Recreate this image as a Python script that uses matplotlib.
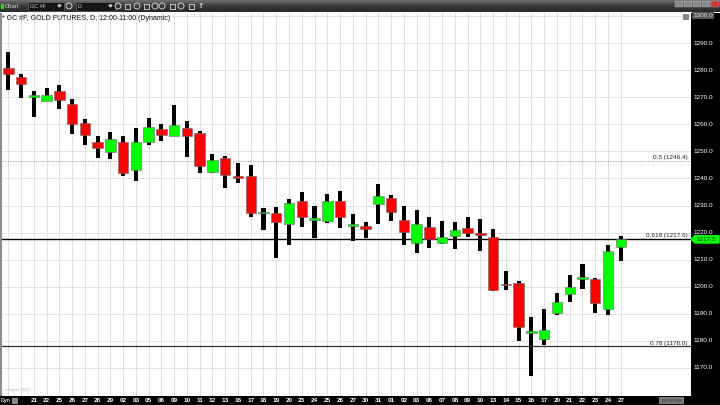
import matplotlib

matplotlib.use("Agg")
import matplotlib.pyplot as plt
import matplotlib.transforms as mtransforms
import numpy as np
from matplotlib.patches import Circle, Polygon, Rectangle

W, H = 720, 405

TITLE = "* GC #F, GOLD FUTURES, D, 12:00-11:00 (Dynamic)"

# one label per candle, the first two sit under the "Dyn" box
DATE_LABELS = [
    "", "", "21", "22", "25", "26", "27", "28", "29", "02", "03", "05", "06", "09", "10", "11",
    "12", "13", "16", "17", "18", "19", "20", "23", "24", "25", "26", "27", "30", "31", "01",
    "02", "03", "06", "07", "08", "09", "10", "13", "14", "15", "16", "17", "20", "21", "22",
    "23", "24", "27",
]
OPENS = [
    1280.7, 1277.3, 1270.1, 1268.7, 1272.3, 1267.4, 1260.6, 1253.6, 1249.6, 1253.4,
    1243.0, 1253.6, 1258.4, 1255.8, 1258.6, 1256.8, 1242.3, 1247.4, 1241.0, 1240.9,
    1227.1, 1227.1, 1223.1, 1231.7, 1224.5, 1224.2, 1231.7, 1222.5, 1222.4, 1230.7,
    1232.7, 1224.6, 1216.3, 1222.0, 1216.0, 1218.8, 1221.8, 1219.8, 1218.3, 1201.0,
    1201.4, 1182.9, 1180.8, 1190.4, 1197.4, 1202.9, 1202.8, 1191.7, 1214.6,
]
HIGHS = [
    1286.8, 1278.6, 1272.3, 1273.3, 1274.5, 1269.3, 1261.9, 1255.8, 1257.1, 1255.6,
    1258.5, 1262.4, 1260.2, 1267.0, 1261.1, 1257.5, 1248.9, 1248.4, 1245.8, 1245.0,
    1229.0, 1229.6, 1232.3, 1235.1, 1229.7, 1234.2, 1235.2, 1226.9, 1223.8, 1237.9,
    1233.9, 1229.9, 1228.3, 1225.9, 1224.3, 1223.8, 1225.6, 1224.9, 1221.3, 1205.8,
    1202.0, 1188.9, 1191.9, 1197.6, 1204.2, 1208.4, 1203.1, 1215.3, 1218.7,
]
LOWS = [
    1272.6, 1269.8, 1262.6, 1268.5, 1265.6, 1256.5, 1252.3, 1247.4, 1247.1, 1240.8,
    1238.9, 1252.2, 1253.8, 1255.7, 1247.8, 1241.9, 1241.9, 1236.3, 1238.4, 1225.9,
    1221.0, 1210.7, 1215.4, 1222.2, 1218.1, 1223.4, 1221.8, 1216.9, 1218.1, 1223.1,
    1224.4, 1215.4, 1212.6, 1214.4, 1215.9, 1213.8, 1218.5, 1213.2, 1198.6, 1198.8,
    1180.1, 1167.0, 1178.5, 1189.6, 1194.4, 1199.2, 1190.2, 1189.5, 1209.4,
]
CLOSES = [
    1278.7, 1274.8, 1270.3, 1270.8, 1269.1, 1260.1, 1256.1, 1251.1, 1254.6, 1241.9,
    1253.6, 1258.9, 1255.9, 1259.6, 1255.6, 1244.6, 1246.7, 1241.4, 1240.0, 1227.3,
    1227.7, 1224.0, 1231.0, 1225.6, 1225.3, 1231.7, 1225.9, 1222.9, 1221.3, 1233.5,
    1227.7, 1220.2, 1223.2, 1217.7, 1218.2, 1221.0, 1220.0, 1219.2, 1198.8, 1200.6,
    1185.0, 1183.8, 1184.0, 1194.5, 1199.8, 1203.3, 1194.0, 1213.2, 1217.5,
]
FIB_LABELS = ["0.5", "0.618", "0.78"]
FIB_PRICES = [1246.4, 1217.6, 1178.0]
PRICE_TICKS = [1170, 1180, 1190, 1200, 1210, 1220, 1230, 1240, 1250, 1260, 1270, 1280, 1290, 1300]
LAST_PRICE = 1217.5
END_DATE = "08/01/2018"


def fig_box(x0, y0, x1, y1):
    # pixel box (top-left origin) -> figure fraction rect
    return [x0 / W, 1 - y1 / H, (x1 - x0) / W, (y1 - y0) / H]


def add_rect(fig, x0, y0, x1, y1, color, zorder=-1, **kw):
    fig.add_artist(Rectangle((x0 / W, 1 - y1 / H), (x1 - x0) / W, (y1 - y0) / H,
                             transform=fig.transFigure, facecolor=color, zorder=zorder, **kw))


def draw_toolbar(fig):
    bar = fig.add_axes(fig_box(0, 0, W, 12))
    grad = np.linspace(0, 1, 50).reshape(-1, 1)
    bar.imshow(grad, aspect="auto", cmap=matplotlib.colors.LinearSegmentedColormap.from_list(
        "bar", ["#707070", "#3a3a3a", "#2a2a2a"]), extent=[0, W, 12, 0])
    bar.set_xlim(0, W)
    bar.set_ylim(12, 0)
    bar.axis("off")

    bar.add_patch(Rectangle((1, 4), 2, 4, color="#33cc33"))
    bar.text(5, 6, "Chart", fontsize=4.2, color="#dddddd", va="center", family="Liberation Sans")
    for x0, x1, label in [(28, 64, "GC #F"), (76, 115, "D")]:
        bar.add_patch(Rectangle((x0, 1.5), x1 - x0, 9, color="#151515", ec="#777777", lw=0.4))
        bar.text(x0 + 2, 6, label, fontsize=4, color="#cccccc", va="center", family="Liberation Sans")
        bar.add_patch(Polygon([(x1 - 6, 5), (x1 - 3, 5), (x1 - 4.5, 7)], color="#cccccc"))
    for xc in [69, 118, 137, 155, 162, 181]:
        bar.add_patch(Circle((xc, 6), 3, fill=False, ec="#dddddd", lw=0.6))
    for xc in [127, 146, 172, 191]:
        bar.add_patch(Rectangle((xc - 2.5, 3.5), 5, 5, fill=False, ec="#dddddd", lw=0.6))
    bar.text(200, 6, "f", fontsize=5, color="#dddddd", va="center", weight="bold")

    for i, x0 in enumerate([675, 684, 693, 702, 711]):
        col = "#d03030" if i == 4 else "#8a8a8a"
        bar.add_patch(Rectangle((x0, 0.5), 8, 6, color=col, ec="#bbbbbb", lw=0.3))


def draw_candles(ax):
    xs = np.arange(len(OPENS))
    opens = np.array(OPENS)
    closes = np.array(CLOSES)
    highs = np.array(HIGHS)
    lows = np.array(LOWS)

    ax.bar(xs, highs - lows, bottom=lows, width=0.32, color="black", zorder=3)

    up = closes >= opens
    body_low = np.minimum(opens, closes)
    body_h = np.maximum(np.abs(closes - opens), 0.55)
    colors = np.where(up, "#00ff00", "#ff0000")
    ax.bar(xs, body_h, bottom=body_low, width=0.82, color=colors, edgecolor="#6a6a6a",
           linewidth=0.4, zorder=4)


def main() -> None:
    plt.rcParams["font.family"] = ["Liberation Sans", "DejaVu Sans"]
    fig = plt.figure(figsize=(W / 100, H / 100), dpi=100)
    fig.patch.set_facecolor("white")

    # black price strip on the right and date strip at the bottom
    add_rect(fig, 691, 13, W, H, "black")
    add_rect(fig, 0, 396, W, H, "black")

    ax = fig.add_axes(fig_box(0, 13, 691, 396))
    n = len(OPENS)
    x_step = 691 / 12.76
    ax.set_xlim(-0.65, -0.65 + x_step)
    ax.set_ylim(1159.66, 1301.08)
    ax.set_facecolor("white")
    for spine in ax.spines.values():
        spine.set_visible(False)
    ax.set_xticks([])
    ax.set_yticks([])

    for p in PRICE_TICKS:
        ax.axhline(p, color="#e4e4e4", lw=0.7, zorder=1)
    for i in range(n):
        ax.axvline(i, color="#dedede", lw=0.7, zorder=1)

    draw_candles(ax)

    right_tr = mtransforms.blended_transform_factory(ax.transAxes, ax.transData)
    fib_styles = [
        dict(color="#9a9a9a", lw=0.6, ls=(0, (1.5, 1.5))),
        dict(color="black", lw=1.0, ls="-"),
        dict(color="#333333", lw=0.9, ls="-"),
    ]
    for label, price, style in zip(FIB_LABELS, FIB_PRICES, fib_styles):
        ax.axhline(price, zorder=2, **style)
        ax.text(688 / 691, price + 0.25, f"{label} ({price:.1f})", transform=right_tr,
                ha="right", va="bottom", fontsize=4.6, color="#222222", zorder=6)

    # price axis labels
    for p in PRICE_TICKS:
        kw = dict(transform=right_tr, ha="left", va="center", fontsize=4.6, clip_on=False)
        if p == 1300:
            ax.text(1 + 2 / 691, p, f"{p:.1f}", color="#dddddd",
                    bbox=dict(boxstyle="square,pad=0.15", fc="#555555", ec="none"), **kw)
        else:
            ax.text(1 + 2 / 691, p, f"{p:.1f}", color="white", **kw)

    tag_h = 1.35
    ax.add_patch(Polygon([(1.0, LAST_PRICE), (1 + 4 / 691, LAST_PRICE + tag_h),
                          (1 + 28 / 691, LAST_PRICE + tag_h), (1 + 28 / 691, LAST_PRICE - tag_h),
                          (1 + 4 / 691, LAST_PRICE - tag_h)],
                         closed=True, transform=right_tr, color="#00ff00", clip_on=False, zorder=7))
    ax.text(1 + 5 / 691, LAST_PRICE, f"{LAST_PRICE:.1f}", transform=right_tr, ha="left",
            va="center", fontsize=4.6, color="#1a3a1a", clip_on=False, zorder=8)

    # date labels along the bottom strip
    date_tr = mtransforms.blended_transform_factory(ax.transData, ax.transAxes)
    for i, lab in enumerate(DATE_LABELS):
        if lab:
            ax.text(i, -4.5 / 383, lab, transform=date_tr, ha="center", va="center",
                    fontsize=4.6, color="white", weight="bold", clip_on=False)

    fig.text(1 / W, 1 - 400.5 / H, "Dyn", fontsize=3.8, color="#dddddd", va="center", weight="bold")
    add_rect(fig, 12, 397.5, 18, 403.5, "#888888", zorder=5)
    add_rect(fig, 659, 397, 684, 404, "#7a7a7a", zorder=5)
    fig.text(671.5 / W, 1 - 400.5 / H, END_DATE, fontsize=3, color="#2a2a2a", ha="center",
             va="center", zorder=6)

    # left border, title and watermark
    add_rect(fig, 0, 13, 1.5, 396, "#8c8c8c", zorder=5)
    fig.text(2 / W, 1 - 19 / H, TITLE, fontsize=5, color="#111111", va="center", zorder=6)
    fig.text(3 / W, 1 - 390.5 / H, "\u00a9eSignal, 2018", fontsize=2.8, color="#b0b0b0",
             va="center", zorder=6)
    add_rect(fig, 683, 14, 689, 20, "#888888", zorder=5)

    draw_toolbar(fig)

    fig.savefig("out.png", dpi=100)
    plt.close(fig)


if __name__ == "__main__":
    main()
